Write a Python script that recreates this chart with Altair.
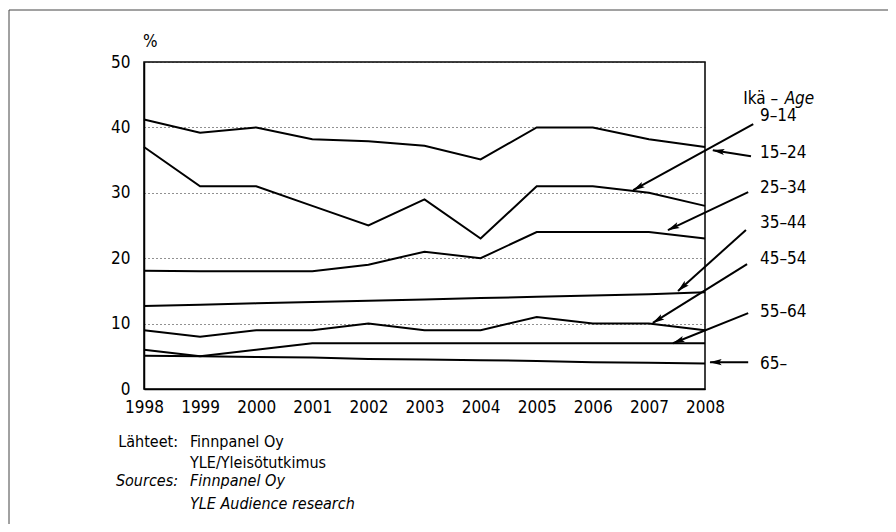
import math
import altair as alt
import pandas as pd

# ---------------- data ----------------
years = list(range(1998, 2009))
groups = ["9–14", "15–24", "25–34", "35–44", "45–54", "55–64", "65–"]
v_9_14 = [37, 31, 31, 28, 25, 29, 23, 31, 31, 30, 28]
v_15_24 = [41.2, 39.2, 40, 38.2, 37.9, 37.2, 35.1, 40, 40, 38.2, 37]
v_25_34 = [18.1, 18, 18, 18, 19, 21, 20, 24, 24, 24, 23]
v_35_44 = [12.7, 12.9, 13.1, 13.3, 13.5, 13.7, 13.9, 14.1, 14.3, 14.5, 14.8]
v_45_54 = [9, 8, 9, 9, 10, 9, 9, 11, 10, 10, 9]
v_55_64 = [6, 5, 6, 7, 7, 7, 7, 7, 7, 7, 7]
v_65 = [5.1, 5.0, 4.9, 4.8, 4.6, 4.5, 4.4, 4.3, 4.1, 4.0, 3.9]
series = [v_9_14, v_15_24, v_25_34, v_35_44, v_45_54, v_55_64, v_65]

y_ticks = [0, 10, 20, 30, 40, 50]

# label anchor (year, value) and arrows (start -> end) in data coordinates
label_x = [2008.98] * 7
label_y = [41.7, 36.1, 30.8, 25.4, 19.9, 11.85, 3.8]
arrow_x1 = [2008.86, 2008.82, 2008.77, 2008.73, 2008.75, 2008.77, 2008.77]
arrow_y1 = [40.5, 35.6, 30.1, 24.3, 19.1, 11.6, 4.1]
arrow_x2 = [2006.72, 2008.14, 2007.34, 2007.52, 2007.07, 2007.43, 2008.09]
arrow_y2 = [30.4, 36.5, 24.3, 15.0, 10.1, 7.0, 4.1]

header_parts = ["Ikä –", "Age"]
header_x = [2008.68, 2009.42]
header_y = [44.3, 44.3]

source_heads = ["Lähteet:", "Sources:"]
source_lines = ["Finnpanel Oy", "YLE/Yleisötutkimus", "Finnpanel Oy", "YLE Audience research"]

# ---------------- layout ----------------
W, H = 561, 327
FONT = "'DejaVu Sans Condensed', 'Liberation Sans Narrow', Roboto, sans-serif"
FS = 17

rows = []
for g, vals in zip(groups, series):
    for yr, v in zip(years, vals):
        rows.append({"group": g, "year": yr, "value": v})
df = pd.DataFrame(rows)

arr = pd.DataFrame({"x1": arrow_x1, "y1": arrow_y1, "x2": arrow_x2, "y2": arrow_y2})
heads = []
for x1, y1, x2, y2 in zip(arrow_x1, arrow_y1, arrow_x2, arrow_y2):
    dx = (x2 - x1) * W / 10.0
    dy = -(y2 - y1) * H / 50.0
    L = math.hypot(dx, dy)
    ux, uy = dx / L, dy / L
    back = 5.5
    cx = x2 - ux * back * 10.0 / W
    cy = y2 + uy * back * 50.0 / H
    ang = math.degrees(math.atan2(dx, -dy)) % 360
    heads.append({"x": cx, "y": cy, "ang": ang})
heads = pd.DataFrame(heads)

labels = pd.DataFrame({"text": groups, "x": label_x, "y": label_y})
hdr = pd.DataFrame({"text": header_parts, "x": header_x, "y": header_y,
                    "style": ["normal", "italic"]})

xs = alt.Scale(domain=[1998, 2008], nice=False, zero=False)
ys = alt.Scale(domain=[0, 50], nice=False)

x_axis = alt.Axis(values=years, format="d", title=None, ticks=False, grid=False,
                  labelPadding=10, labelFontSize=FS, labelColor="black",
                  labelFlush=False, labelOverlap=False,
                  domainColor="black", domainWidth=1.5, labelFont=FONT)
y_axis = alt.Axis(values=y_ticks, title=None, ticks=False, grid=True,
                  gridDash=[1, 3], gridColor="#222", gridWidth=1,
                  labelPadding=14, labelFontSize=FS, labelColor="black",
                  labelFlush=False, labelOverlap=False,
                  domainColor="black", domainWidth=1.5, labelFont=FONT)

lines = alt.Chart(df).mark_line(color="black", strokeWidth=2).encode(
    x=alt.X("year:Q", scale=xs, axis=x_axis),
    y=alt.Y("value:Q", scale=ys, axis=y_axis),
    detail="group:N",
)

arrows = alt.Chart(arr).mark_rule(color="black", strokeWidth=2).encode(
    x=alt.X("x1:Q", scale=xs), y=alt.Y("y1:Q", scale=ys),
    x2="x2:Q", y2="y2:Q",
)

arrowheads = alt.Chart(heads).mark_point(
    shape="M0,-1L0.5,1L0,0.6L-0.5,1Z", filled=True, color="black", size=150,
    opacity=1, strokeWidth=0
).encode(
    x=alt.X("x:Q", scale=xs), y=alt.Y("y:Q", scale=ys),
    angle=alt.Angle("ang:Q", scale=None),
)

label_text = alt.Chart(labels).mark_text(
    align="left", baseline="middle", font=FONT, fontSize=FS, color="black"
).encode(x=alt.X("x:Q", scale=xs), y=alt.Y("y:Q", scale=ys), text="text:N")

hdr_normal = alt.Chart(hdr[hdr["style"] == "normal"]).mark_text(
    align="left", baseline="middle", font=FONT, fontSize=FS, color="black"
).encode(x=alt.X("x:Q", scale=xs), y=alt.Y("y:Q", scale=ys), text="text:N")
hdr_italic = alt.Chart(hdr[hdr["style"] == "italic"]).mark_text(
    align="left", baseline="middle", font=FONT, fontSize=FS, fontStyle="italic", color="black"
).encode(x=alt.X("x:Q", scale=xs), y=alt.Y("y:Q", scale=ys), text="text:N")

one = pd.DataFrame({"a": [0]})

pct = alt.Chart(one).mark_text(
    align="left", baseline="middle", font=FONT, fontSize=FS, color="black", text="%"
).encode(x=alt.value(-1), y=alt.value(-20))

src_layers = []
src_y = [379.5, 400.5, 419, 441.5]
for i, t in enumerate(source_lines):
    italic = i >= 2
    kw = dict(align="left", baseline="middle", font=FONT, fontSize=FS - 1, color="black", text=t)
    if italic:
        kw["fontStyle"] = "italic"
    src_layers.append(alt.Chart(one).mark_text(**kw).encode(x=alt.value(46), y=alt.value(src_y[i])))
for i, t in enumerate(source_heads):
    kw = dict(align="right", baseline="middle", font=FONT, fontSize=FS - 1, color="black", text=t)
    if i == 1:
        kw["fontStyle"] = "italic"
    src_layers.append(alt.Chart(one).mark_text(**kw).encode(x=alt.value(34), y=alt.value(src_y[i * 2])))

frame_top = alt.Chart(one).mark_rule(color="#444", strokeWidth=1).encode(
    x=alt.value(-135), x2=alt.value(752), y=alt.value(-52))
frame_left = alt.Chart(one).mark_rule(color="#444", strokeWidth=1).encode(
    x=alt.value(-135), y=alt.value(-52), y2=alt.value(470))

chart = alt.layer(
    lines, arrows, arrowheads, label_text, hdr_normal, hdr_italic, pct,
    *src_layers, frame_top, frame_left
).properties(
    width=W, height=H,
    autosize=alt.AutoSizeParams(type="none"),
    padding={"left": 136, "top": 54, "right": 183, "bottom": 135},
).configure(font=FONT).configure_view(stroke="black", strokeWidth=1.5)

chart.save("out.html", embed_options={"renderer": "svg", "actions": False})
